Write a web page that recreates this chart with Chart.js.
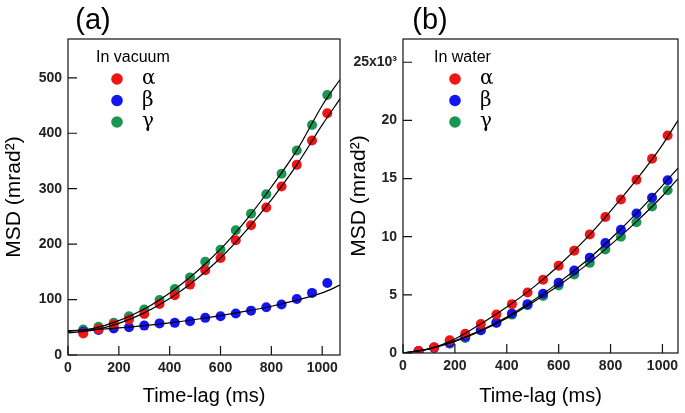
<!DOCTYPE html>
<html>
<head>
<meta charset="utf-8">
<script src="https://cdn.jsdelivr.net/npm/chart.js@4/dist/chart.umd.min.js"></script>
<style>
  body { margin: 0; background: #fff; }
  #wrap { position: relative; width: 685px; height: 413px; }
  canvas { position: absolute; top: 0; }
</style>
</head>
<body>
<div id="wrap">
  <canvas id="panelA" width="345" height="413" style="left:0"></canvas>
  <canvas id="panelB" width="340" height="413" style="left:345px"></canvas>
</div>
<script>
// time-lag of the measured points (ms)
var timeLag = [60, 120, 180, 240, 300, 360, 420, 480, 540, 600, 660, 720, 780, 840, 900, 960, 1020];

// (a) in vacuum, mrad^2
var vacAlpha = [39, 47, 55, 64, 74, 92, 108, 127, 153, 175, 207, 234, 266, 304, 343, 387, 436];
var vacBeta  = [42, 45, 48, 50, 53, 57, 58, 61, 67, 70, 75, 80, 86, 91, 101, 112, 130];
var vacGamma = [46, 51, 58, 70, 82, 99, 119, 140, 168, 190, 225, 255, 290, 327, 369, 415, 469];

// fitted curves (a)
var fitXA = [0, 100, 200, 300, 400, 500, 600, 700, 800, 900, 1000, 1070];
var fitVacAlpha = [40, 45, 57, 76, 102, 135, 175, 224, 280, 343, 415, 462];
var fitVacBeta  = [44, 46, 49, 53, 58, 64, 71, 79, 88, 99, 112, 126];
var fitVacGamma = [42, 48, 62, 83, 112, 148, 191, 243, 303, 369, 450, 497];

// (b) in water, x10^3 mrad^2
var watAlpha = [0.17, 0.5, 1.1, 1.66, 2.5, 3.3, 4.2, 5.2, 6.3, 7.5, 8.8, 10.2, 11.7, 13.2, 14.9, 16.7, 18.7];
var watBeta  = [0.17, 0.46, 0.86, 1.4, 1.95, 2.6, 3.4, 4.2, 5.1, 6.05, 7.1, 8.2, 9.45, 10.6, 12.0, 13.35, 14.85];
var watGamma = [0.15, 0.46, 0.8, 1.3, 1.95, 2.6, 3.3, 4.1, 4.9, 5.8, 6.75, 7.75, 8.9, 10.0, 11.25, 12.6, 14.0];

// fitted curves (b)
var fitXB = [0, 100, 200, 300, 400, 500, 600, 700, 800, 900, 1000, 1060];
var fitWatAlpha = [0, 0.35, 1.2, 2.5, 3.95, 5.6, 7.5, 9.7, 12.2, 14.9, 17.9, 20.0];
var fitWatBeta  = [0, 0.35, 1.05, 1.95, 3.1, 4.5, 6.05, 7.8, 9.8, 12.0, 14.4, 15.9];
var fitWatGamma = [0, 0.35, 1.0, 1.9, 3.0, 4.35, 5.8, 7.45, 9.3, 11.3, 13.5, 15.0];

var seriesNames = ['\u03b1', '\u03b2', '\u03b3'];
var seriesColors = ['#f01414', '#1414f0', '#1a9652'];

function zip(xs, ys) {
    return xs.map(function (x, i) { return { x: x, y: ys[i] }; });
}

// frame, inward ticks, legend and panel letter
var decor = {
    id: 'decor',
    afterDraw: function (chart, args, o) {
        var ctx = chart.ctx;
        var a = chart.chartArea;
        ctx.save();
        ctx.strokeStyle = '#111';
        ctx.lineWidth = 1.2;
        ctx.strokeRect(a.left, a.top, a.right - a.left, a.bottom - a.top);
        var xs = chart.scales.x, ys = chart.scales.y;
        ctx.beginPath();
        xs.ticks.forEach(function (t) {
            var px = xs.getPixelForValue(t.value);
            ctx.moveTo(px, a.bottom);
            ctx.lineTo(px, a.bottom - 9);
        });
        ys.ticks.forEach(function (t) {
            var py = ys.getPixelForValue(t.value);
            ctx.moveTo(a.left, py);
            ctx.lineTo(a.left + 9, py);
        });
        ctx.stroke();

        // panel letter
        ctx.fillStyle = '#000';
        ctx.font = '29px "Liberation Sans", Arial, sans-serif';
        ctx.textAlign = 'center';
        ctx.textBaseline = 'middle';
        ctx.fillText(o.letter, o.letterX, 21);

        // legend
        ctx.font = '16px "Liberation Sans", Arial, sans-serif';
        ctx.textAlign = 'left';
        ctx.fillText(o.heading, o.headX, 58);
        seriesNames.forEach(function (n, i) {
            var y = 79 + i * 21.5;
            ctx.beginPath();
            ctx.fillStyle = seriesColors[i];
            ctx.arc(o.dotX, y, 5.8, 0, Math.PI * 2);
            ctx.fill();
            ctx.fillStyle = '#000';
            ctx.font = '20px "DejaVu Serif", "Liberation Serif", serif';
            ctx.fillText(n, o.dotX + 25, y);
        });
        ctx.restore();
    }
};

function makePanel(id, pts, fits, fitX, xMax, yMax, yStep, yLabelW, padRight, opts) {
    var datasets = [];
    fits.forEach(function (f) {
        datasets.push({
            data: zip(fitX, f),
            showLine: true,
            borderColor: '#000',
            borderWidth: 1.2,
            pointRadius: 0,
            cubicInterpolationMode: 'monotone',
            order: 0
        });
    });
    pts.forEach(function (p, i) {
        datasets.push({
            label: seriesNames[i],
            data: zip(timeLag, p),
            backgroundColor: seriesColors[i],
            borderColor: seriesColors[i],
            pointRadius: 5,
            pointBorderWidth: 0,
            order: 1
        });
    });
    var tickFont = { family: '"Liberation Sans", Arial, sans-serif', weight: 'bold', size: 14 };
    var titleFont = { family: '"Liberation Sans", Arial, sans-serif', size: 20 };
    return new Chart(document.getElementById(id), {
        type: 'scatter',
        data: { datasets: datasets },
        plugins: [decor],
        options: {
            responsive: false,
            animation: false,
            devicePixelRatio: 1,
            layout: { padding: { top: 39, right: padRight, left: 0, bottom: 0 } },
            scales: {
                x: {
                    type: 'linear',
                    min: 0,
                    max: xMax,
                    grid: { display: false, drawTicks: false },
                    border: { display: false },
                    ticks: {
                        stepSize: 200, includeBounds: false, font: tickFont, color: '#222', padding: 5,
                        callback: function (v) { return String(v); }
                    },
                    title: { display: true, text: 'Time-lag (ms)', font: titleFont, color: '#000', padding: { top: 0, bottom: 5 } },
                    afterFit: function (s) { s.height = 413 - 39 - opts.areaH; }
                },
                y: {
                    type: 'linear',
                    min: 0,
                    max: yMax,
                    grid: { display: false, drawTicks: false },
                    border: { display: false },
                    ticks: {
                        stepSize: yStep, includeBounds: false, font: tickFont, color: '#222', padding: 6,
                        callback: function (v) { return opts.topLabel && v === opts.topLabel[0] ? opts.topLabel[1] : String(v); }
                    },
                    title: { display: true, text: 'MSD (mrad\u00b2)', font: { family: titleFont.family, size: 21 }, color: '#000', padding: { top: 2, bottom: 0 } },
                    afterFit: function (s) { s.width = yLabelW; }
                }
            },
            plugins: {
                legend: { display: false },
                tooltip: { enabled: false },
                decor: opts.decor
            }
        }
    });
}

makePanel('panelA', [vacAlpha, vacBeta, vacGamma], [fitVacAlpha, fitVacBeta, fitVacGamma], fitXA,
    1070, 570, 100, 68, 2,
    { areaH: 316, decor: { letter: '(a)', letterX: 93, heading: 'In vacuum', headX: 96, dotX: 117 } });

makePanel('panelB', [watAlpha, watBeta, watGamma], [fitWatAlpha, fitWatBeta, fitWatGamma], fitXB,
    1060, 27, 5, 58, 7,
    { areaH: 314, topLabel: [25, '25x10\u00b3'], decor: { letter: '(b)', letterX: 85, heading: 'In water', headX: 89, dotX: 110 } });
</script>
</body>
</html>
